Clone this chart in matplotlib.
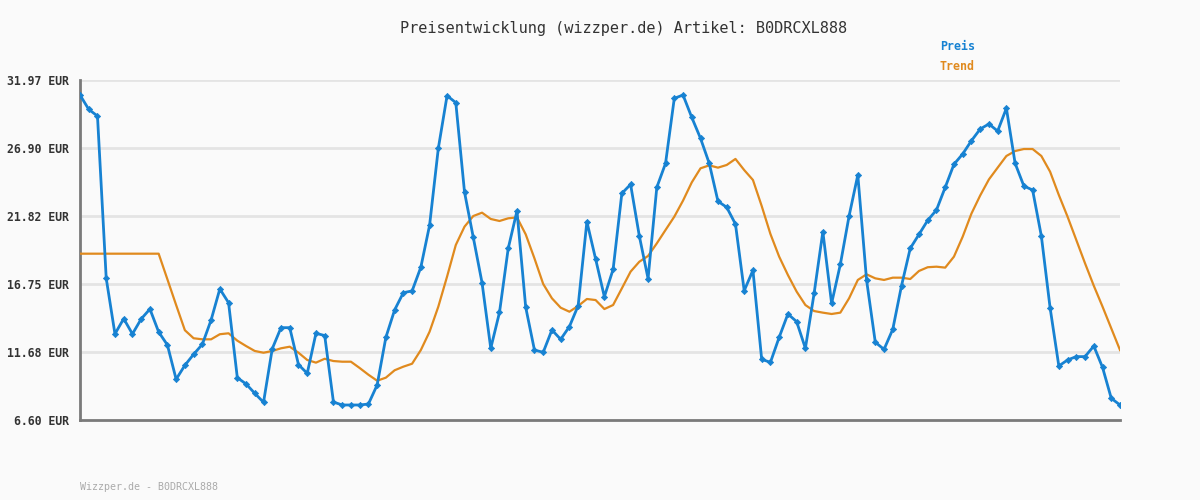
import matplotlib
matplotlib.use("Agg")
import matplotlib.pyplot as plt
import numpy as np

title = "Preisentwicklung (wizzper.de) Artikel: B0DRCXL888"
footer = "Wizzper.de - B0DRCXL888"
series_names = ["Preis", "Trend"]

y_ticks = [6.60, 11.68, 16.75, 21.82, 26.90, 31.97]
y_tick_labels = ["6.60 EUR", "11.68 EUR", "16.75 EUR", "21.82 EUR", "26.90 EUR", "31.97 EUR"]

preis = [
    30.85, 29.78, 29.28, 17.17, 13.02, 14.16, 13.02, 14.14, 14.88, 13.17,
    12.20, 9.64, 10.68, 11.50, 12.25, 14.06, 16.38, 15.35, 9.76, 9.29,
    8.59, 7.92, 11.92, 13.49, 13.49, 10.73, 10.08, 13.07, 12.90, 7.94,
    7.72, 7.72, 7.72, 7.79, 9.21, 12.77, 14.81, 16.10, 16.23, 18.00,
    21.13, 26.87, 30.80, 30.28, 23.59, 20.23, 16.85, 11.95, 14.63, 19.41,
    22.20, 15.01, 11.82, 11.65, 13.32, 12.62, 13.57, 15.13, 21.40, 18.61,
    15.80, 17.84, 23.51, 24.18, 20.33, 17.15, 23.96, 25.75, 30.60, 30.85,
    29.18, 27.62, 25.75, 22.92, 22.47, 21.22, 16.25, 17.77, 11.13, 10.90,
    12.77, 14.51, 13.94, 11.95, 16.05, 20.65, 15.30, 18.21, 21.82, 24.88,
    17.05, 12.40, 11.87, 13.37, 16.62, 19.41, 20.45, 21.50, 22.27, 23.96,
    25.68, 26.45, 27.44, 28.31, 28.69, 28.16, 29.86, 25.75, 24.06, 23.76,
    20.33, 14.98, 10.63, 11.08, 11.33, 11.33, 12.12, 10.53, 8.22, 7.72,
]

trend = [
    19.01, 19.01, 19.01, 19.01, 19.01, 19.01, 19.01, 19.01, 19.01, 19.01,
    17.10, 15.18, 13.30, 12.70, 12.62, 12.62, 13.00, 13.07, 12.52, 12.12,
    11.75, 11.62, 11.75, 11.95, 12.07, 11.62, 11.08, 10.88, 11.17, 11.00,
    10.95, 10.95, 10.48, 9.98, 9.53, 9.76, 10.31, 10.58, 10.80, 11.82,
    13.19, 15.06, 17.30, 19.66, 21.03, 21.82, 22.07, 21.60, 21.45, 21.65,
    21.72, 20.45, 18.66, 16.75, 15.68, 14.98, 14.68, 15.11, 15.63, 15.55,
    14.88, 15.18, 16.42, 17.67, 18.41, 18.84, 19.78, 20.78, 21.77, 22.97,
    24.33, 25.38, 25.60, 25.43, 25.63, 26.08, 25.25, 24.51, 22.57, 20.48,
    18.79, 17.42, 16.18, 15.18, 14.73, 14.61, 14.51, 14.61, 15.68, 17.05,
    17.47, 17.17, 17.05, 17.22, 17.22, 17.12, 17.72, 18.00, 18.04, 17.97,
    18.79, 20.28, 22.00, 23.35, 24.55, 25.43, 26.30, 26.67, 26.82, 26.82,
    26.30, 25.13, 23.39, 21.77, 20.03, 18.29, 16.62, 15.06, 13.44, 11.82,
]

bg = "#fafafa"
blue = "#1782d2"
orange = "#e08a1e"
mono = ["DejaVu Sans Mono", "Liberation Mono"]

fig = plt.figure(figsize=(12, 5), dpi=100, facecolor=bg)
ax = fig.add_axes([80 / 1200, 1 - 420 / 500, 1040 / 1200, 340 / 500])
ax.set_facecolor(bg)

x = np.arange(len(preis))
ax.plot(x, trend, color=orange, lw=1.6, zorder=3)
ax.plot(x, preis, color=blue, lw=2.0, marker="D", markersize=3.2,
        markeredgewidth=0.5, markeredgecolor=blue, markerfacecolor=blue, zorder=4)

ax.set_xlim(0, len(preis) - 1)
ax.set_ylim(y_ticks[0], y_ticks[-1])
ax.set_yticks(y_ticks)
ax.set_yticklabels(y_tick_labels, family=mono, fontweight="bold", fontsize=8.3, color="#333333")
ax.set_xticks([])
ax.tick_params(axis="y", length=0, pad=8)
for yv in y_ticks[1:]:
    ax.axhline(yv, color="#e4e4e4", lw=2, zorder=1)

for s in ["top", "right"]:
    ax.spines[s].set_visible(False)
for s in ["left", "bottom"]:
    ax.spines[s].set_color("#7a7a7a")
    ax.spines[s].set_linewidth(2)

fig.text(624 / 1200, 1 - 28 / 500, title, ha="center", va="center",
         family=mono, fontsize=11, color="#333333")
fig.text(940 / 1200, 1 - 47 / 500, series_names[0], ha="left", va="center",
         family=mono, fontsize=8.4, fontweight="bold", color=blue)
fig.text(940 / 1200, 1 - 67 / 500, series_names[1], ha="left", va="center",
         family=mono, fontsize=8.4, fontweight="bold", color=orange)
fig.text(80 / 1200, 1 - 487 / 500, footer, ha="left", va="center",
         family=mono, fontsize=7.2, color="#aaaaaa")

fig.savefig("out.png", dpi=100, facecolor=bg)
